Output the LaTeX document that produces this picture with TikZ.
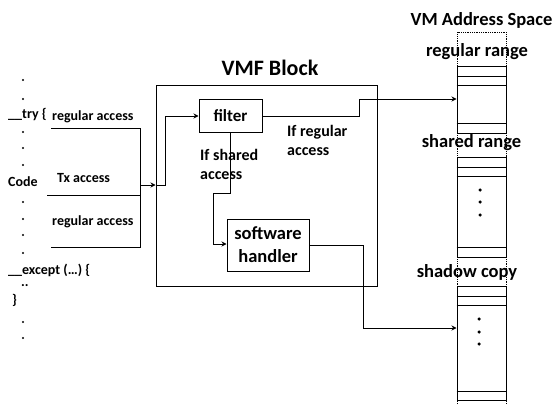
\documentclass[tikz,border=0pt]{standalone}
\usepackage{fontspec}
\setmainfont{Carlito}
\usetikzlibrary{arrows.meta}
\begin{document}
\begin{tikzpicture}[x=1pt,y=-1pt,
  lbl/.style={font=\bfseries\fontsize{14}{15}\selectfont, inner sep=0pt},
  cond/.style={font=\bfseries\fontsize{16}{19}\selectfont, inner sep=0pt, align=left},
  big/.style={font=\bfseries\fontsize{22}{24}\selectfont, inner sep=0pt},
  mid/.style={font=\bfseries\fontsize{18.5}{20}\selectfont, inner sep=0pt},
  boxn/.style={draw, line width=1pt, inner sep=0pt, align=center},
  wire/.style={line width=1pt},
  arr/.style={line width=1pt, -{Stealth[length=5pt,width=5pt]}},
  dotc/.style={circle, fill, inner sep=0pt, minimum size=3.5pt},
  sdot/.style={circle, fill, inner sep=0pt, minimum size=2.4pt},
  mem/.style={line width=1pt}]
\useasboundingbox (0,0) rectangle (556,404);
% left code text
\foreach \y in {80,99,132,148,165,202,219,235,253,322,338} \node[sdot] at (23,\y) {};
\node[lbl, anchor=west] (try) at (8,114) {\_\_try \{};
\node[lbl, anchor=west] (code) at (8,182) {Code};
\node[lbl, anchor=west] (exc) at (8,270) {\_\_except (…) \{};
\node[lbl, anchor=west] (dd) at (21,286) {..};
\node[lbl, anchor=west] (cb) at (12,300) {\}};
\node[lbl, anchor=west] (ra1) at (52,117) {regular access};
\node[lbl, anchor=west] (tx) at (57,178) {Tx access};
\node[lbl, anchor=west] (ra2) at (52,222) {regular access};
\coordinate (l1) at (51,128);
\coordinate (l2) at (47,195);
\coordinate (l3) at (51,247);
\coordinate (j1) at (140,128);
\coordinate (j2) at (140,195);
\coordinate (j3) at (140,247);
\coordinate (jm) at (140,185);
\draw[wire] (l1) -- (j1) -- (j3) -- (l3);
\draw[wire] (l2) -- (j2);
% VMF block
\node[draw, line width=1pt, minimum width=221pt, minimum height=201pt, inner sep=0pt] (vmf) at (266.5,185.5) {};
\node[big] (vmft) at (270,68) {VMF Block};
\draw[arr] (jm) -- (vmf.west|-jm);
\node[boxn, minimum width=63pt, minimum height=33pt, font=\bfseries\fontsize{17}{19}\selectfont] (filter) at (230.5,115.5) {filter};
\node[boxn, minimum width=82pt, minimum height=52pt, font=\bfseries\fontsize{18.5}{23}\selectfont] (sw) at (268,245) {software\\handler};
\draw[arr] (vmf.west|-jm) -- (165,185) -- (165,116) -- (filter.west|-0,116);
\node[cond, anchor=west] (ifr) at (287,140.5) {If regular\\access};
\node[cond, anchor=west] (ifs) at (200,164.5) {If shared\\access};
\draw[arr] (230,132) -- (230,193) -- (213,193) -- (213,244) -- (sw.west|-0,244);
% address space
\node[mid] (vmas) at (481.5,20) {VM Address Space};
\node[mid] (rr) at (477,52) {regular range};
\node[mid] (sr) at (471.5,143) {shared range};
\node[mid] (sc) at (467,272) {shadow copy};
\draw[densely dotted, line width=0.8pt] (457,404) -- (457,32) -- (506,32) -- (506,404);
% regular box
\node[draw, mem, minimum width=49pt, minimum height=67pt, inner sep=0pt] (rbox) at (481.5,99.5) {};
\draw[mem] (rbox.west|-0,76) -- (rbox.east|-0,76);
\draw[mem] (rbox.west|-0,85) -- (rbox.east|-0,85);
\draw[mem] (rbox.west|-0,123) -- (rbox.east|-0,123);
% shared box
\node[draw, mem, minimum width=49pt, minimum height=100pt, inner sep=0pt] (sbox) at (481.5,207) {};
\draw[mem] (sbox.west|-0,167) -- (sbox.east|-0,167);
\draw[mem] (sbox.west|-0,176) -- (sbox.east|-0,176);
\draw[mem] (sbox.west|-0,247) -- (sbox.east|-0,247);
\foreach \y in {190,202,215} \node[dotc] at (480,\y) {};
% shadow box
\node[draw, mem, minimum width=49pt, minimum height=114pt, inner sep=0pt] (hbox) at (481.5,343) {};
\draw[mem] (hbox.west|-0,296) -- (hbox.east|-0,296);
\draw[mem] (hbox.west|-0,305) -- (hbox.east|-0,305);
\draw[mem] (hbox.west|-0,391) -- (hbox.east|-0,391);
\foreach \y in {319,332,344} \node[dotc] at (479,\y) {};
% connectors out
\draw[arr, line width=0.9pt] (filter.east|-0,116) -- (359,116) -- (359,99) -- (rbox.west|-0,99);
\draw[arr, line width=0.9pt] (sw.east|-0,245) -- (363,245) -- (363,328) -- (hbox.west|-0,328);
\end{tikzpicture}
\end{document}
